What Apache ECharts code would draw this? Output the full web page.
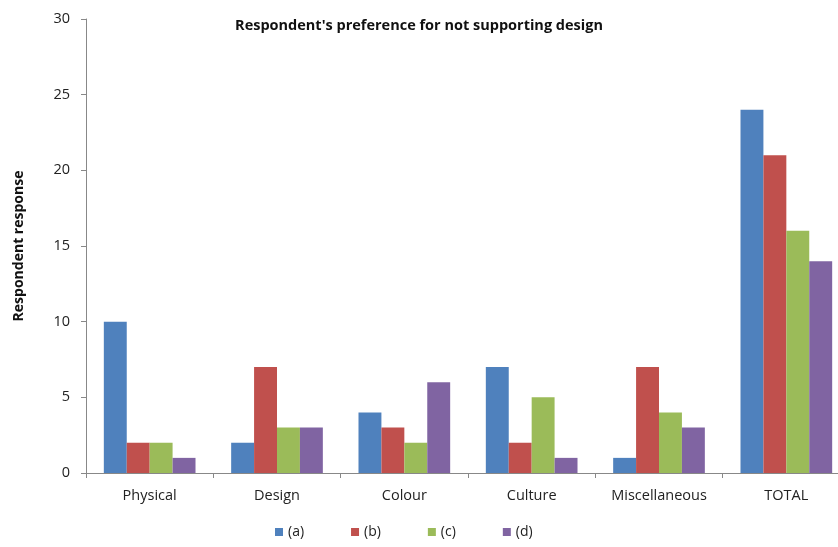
<!DOCTYPE html>
<html>
<head>
<meta charset="utf-8">
<script src="https://cdn.jsdelivr.net/npm/echarts@6/dist/echarts.min.js"></script>
<style>
  html, body { margin: 0; padding: 0; background: #fff; overflow: hidden; }
  #chart { width: 850px; height: 547px; }
</style>
</head>
<body>
<div id="chart"></div>
<script>
// Categories and responses per option
const categories = ['Physical', 'Design', 'Colour', 'Culture', 'Miscellaneous', 'TOTAL'];
const seriesNames = ['(a)', '(b)', '(c)', '(d)'];
const valuesA = [10, 2, 4, 7, 1, 24];
const valuesB = [2, 7, 3, 2, 7, 21];
const valuesC = [2, 3, 2, 5, 4, 16];
const valuesD = [1, 3, 6, 1, 3, 14];
const colors = ['#4F81BD', '#C0504D', '#9BBB59', '#8064A2'];

const font = 'Open Sans';
const chart = echarts.init(document.getElementById('chart'));

const makeSeries = (name, data, color) => ({
  name: name,
  type: 'bar',
  data: data,
  barGap: '0%',
  barCategoryGap: '28%',
  itemStyle: { color: color },
  emphasis: { disabled: true }
});

chart.setOption({
  animation: false,
  textStyle: { fontFamily: font },
  title: {
    text: "Respondent's preference for not supporting design",
    left: 414,
    top: 13,
    textAlign: 'center',
    textStyle: { fontSize: 14.5, fontWeight: 'bold', color: '#111', fontFamily: font }
  },
  legend: {
    data: seriesNames,
    bottom: 3,
    left: 270,
    itemWidth: 8,
    itemHeight: 8,
    itemGap: 47,
    icon: 'rect',
    textStyle: { fontSize: 14, color: '#222', fontFamily: font }
  },
  grid: { left: 86, right: 0, top: 19, bottom: 74, containLabel: false },
  xAxis: {
    type: 'category',
    data: categories,
    axisLine: { lineStyle: { color: '#888', width: 1 } },
    axisTick: { show: true, length: 5, lineStyle: { color: '#888' } },
    axisLabel: { color: '#222', fontSize: 14.5, margin: 15, fontFamily: font }
  },
  yAxis: {
    type: 'value',
    min: 0,
    max: 30,
    interval: 5,
    name: 'Respondent response',
    nameLocation: 'middle',
    nameGap: 60,
    nameTextStyle: { fontSize: 14, fontWeight: 'bold', color: '#111', fontFamily: font },
    axisLine: { show: true, lineStyle: { color: '#888', width: 1 } },
    axisTick: { show: true, length: 5, lineStyle: { color: '#888' } },
    axisLabel: { color: '#222', fontSize: 14.5, margin: 16, fontFamily: font },
    splitLine: { show: false }
  },
  series: [
    makeSeries(seriesNames[0], valuesA, colors[0]),
    makeSeries(seriesNames[1], valuesB, colors[1]),
    makeSeries(seriesNames[2], valuesC, colors[2]),
    makeSeries(seriesNames[3], valuesD, colors[3])
  ]
});
</script>
</body>
</html>
